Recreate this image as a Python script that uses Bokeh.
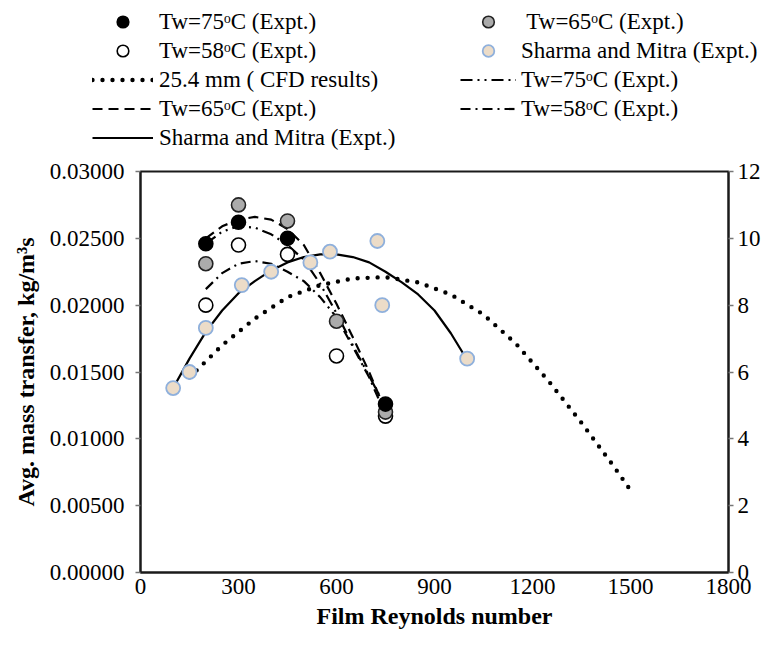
from bokeh.plotting import figure
from bokeh.layouts import column
from bokeh.models import (Range1d, LinearAxis, FixedTicker, NumeralTickFormatter,
                          Legend, LegendItem)
from bokeh.embed import file_html
from bokeh.resources import INLINE

# ---------------- data ----------------
re_75 = [200, 300, 450, 750]
mt_75 = [0.0246, 0.0262, 0.0250, 0.0126]

re_65 = [200, 300, 450, 600, 750]
mt_65 = [0.0231, 0.0275, 0.0263, 0.0188, 0.0120]

re_58 = [200, 300, 450, 600, 750]
mt_58 = [0.0200, 0.0245, 0.0238, 0.0162, 0.0117]

re_sm = [100, 150, 200, 310, 400, 520, 580, 725, 740, 1000]
mt_sm = [0.0138, 0.0150, 0.0183, 0.0215, 0.0225, 0.0232, 0.0240, 0.0248, 0.0200, 0.0160]

# CFD results (25.4 mm)
re_cfd = [150, 250, 350, 450, 550, 650, 750, 850, 950, 1050, 1150, 1250, 1350, 1450, 1510]
mt_cfd = [0.0146, 0.0170, 0.0190, 0.0206, 0.0215, 0.0220, 0.0221, 0.0217, 0.0208,
          0.0193, 0.0171, 0.0143, 0.0112, 0.0079, 0.0058]

# trend curves of the experiments
re_fit = [200, 250, 300, 350, 400, 450, 500, 550, 600, 650, 700, 750]
fit_75 = [0.0246, 0.0255, 0.0259, 0.0258, 0.0253, 0.0245, 0.0234, 0.0216, 0.0194, 0.0170, 0.0147, 0.0124]
fit_65 = [0.0250, 0.0259, 0.0264, 0.0266, 0.0264, 0.0257, 0.0245, 0.0224, 0.0201, 0.0176, 0.0150, 0.0121]
fit_58 = [0.0212, 0.0224, 0.0231, 0.0233, 0.0231, 0.0225, 0.0218, 0.0206, 0.0191, 0.0169, 0.0146, 0.0118]

re_smfit = [100, 150, 200, 250, 300, 350, 400, 450, 500, 550, 600, 650, 700, 750, 800,
            850, 900, 950, 1000]
fit_sm = [0.0138, 0.0160, 0.0180, 0.0196, 0.0209, 0.0218, 0.0226, 0.0232, 0.0236, 0.0238,
          0.0238, 0.0236, 0.0232, 0.0225, 0.0217, 0.0208, 0.0196, 0.0179, 0.0159]

x_ticks = [0, 300, 600, 900, 1200, 1500, 1800]
y_ticks = [0.0, 0.005, 0.010, 0.015, 0.020, 0.025, 0.030]
y2_ticks = [0, 2, 4, 6, 8, 10, 12]

lab_75 = "Tw=75\u1d52C (Expt.)"
lab_65 = "Tw=65\u1d52C (Expt.)"
lab_58 = "Tw=58\u1d52C (Expt.)"
lab_sm = "Sharma and Mitra (Expt.)"
lab_cfd = "25.4 mm ( CFD results)"

FONT = "Liberation Serif"

# styles shared by plot and legend
S_CFD = dict(line_color="black", line_width=4.4, line_dash="0 10", line_cap="round")
S_F65 = dict(line_color="black", line_width=2.2, line_dash="10 6")
S_SML = dict(line_color="black", line_width=2.2)
S_F75 = dict(line_color="black", line_width=2.2, line_dash="12 5 2 5 2 5")
S_F58 = dict(line_color="black", line_width=2.2, line_dash="10 5 2 5")
M_58 = dict(fill_color="white", line_color="black", line_width=1.6)
M_65 = dict(fill_color="#ababab", line_color="#222222", line_width=1.6)
M_75 = dict(fill_color="black", line_color="black", line_width=1.6)
M_SM = dict(fill_color="#ecdcc8", line_color="#8fb0dc", line_width=1.8)

LEG_H = 155

# ---------------- main plot ----------------
p = figure(width=769, height=645 - LEG_H, output_backend="svg", toolbar_location=None,
           x_range=Range1d(0, 1800), y_range=Range1d(0, 0.03),
           min_border_left=140, min_border_right=41, min_border_top=171 - LEG_H,
           min_border_bottom=73)
p.frame_align = False
p.extra_y_ranges = {"right": Range1d(0, 12)}
p.xgrid.visible = False
p.ygrid.visible = False
p.outline_line_color = "#1a1a1a"
p.outline_line_width = 2

p.line(re_cfd, mt_cfd, **S_CFD)
p.line(re_fit, fit_65, **S_F65)
p.line(re_smfit, fit_sm, **S_SML)
p.line(re_fit, fit_75, **S_F75)
p.line(re_fit, fit_58, **S_F58)

p.scatter(re_58, mt_58, size=14, **M_58)
p.scatter(re_65, mt_65, size=14, **M_65)
p.scatter(re_75, mt_75, size=14, **M_75)
p.scatter(re_sm, mt_sm, size=14, **M_SM)

xa = p.xaxis[0]
xa.ticker = FixedTicker(ticks=x_ticks)
xa.axis_label = "Film Reynolds number"
ya = p.yaxis[0]
ya.ticker = FixedTicker(ticks=y_ticks)
ya.formatter = NumeralTickFormatter(format="0.00000")
ya.axis_label = "Avg. mass transfer, kg/m\u00b3s"

ra = LinearAxis(y_range_name="right", ticker=FixedTicker(ticks=y2_ticks))
p.add_layout(ra, "right")

for ax in (xa, ya, ra):
    ax.axis_line_color = "#1a1a1a"
    ax.axis_line_width = 2
    ax.major_tick_line_color = "#777777"
    ax.major_tick_line_width = 1.5
    ax.major_tick_in = 0
    ax.major_tick_out = 5
    ax.minor_tick_line_color = None
    ax.major_label_text_font = FONT
    ax.major_label_text_font_size = "23px"
    ax.major_label_text_color = "black"
    ax.axis_label_text_font = FONT
    ax.axis_label_text_font_style = "bold"
    ax.axis_label_text_font_size = "24px"
    ax.axis_label_text_color = "black"

xa.major_tick_out = 0
xa.major_label_standoff = 6
xa.axis_label_standoff = 6
ya.major_label_standoff = 11
ya.axis_label_standoff = 8
ra.major_label_standoff = 4

# ---------------- legend strip above the plot ----------------
lf = figure(width=769, height=LEG_H, output_backend="svg", toolbar_location=None,
            x_range=Range1d(0, 769), y_range=Range1d(0, LEG_H),
            x_axis_location=None, y_axis_location=None,
            min_border_left=0, min_border_right=0, min_border_top=0, min_border_bottom=0)
lf.frame_align = False
lf.xgrid.visible = False
lf.ygrid.visible = False
lf.outline_line_color = None

far = [-1000]
g_75 = lf.scatter(far, far, **M_75)
g_58 = lf.scatter(far, far, **M_58)
g_65 = lf.scatter(far, far, **M_65)
g_sm = lf.scatter(far, far, **M_SM)
g_cfd = lf.line(far, far, **S_CFD)
g_f65 = lf.line(far, far, **S_F65)
g_sml = lf.line(far, far, **S_SML)
g_f75 = lf.line(far, far, **S_F75)
g_f58 = lf.line(far, far, **S_F58)

def make_legend(items, glyph_w, standoff, loc):
    return Legend(items=items, location=loc, orientation="vertical",
                  glyph_width=glyph_w, glyph_height=29, label_height=29,
                  label_standoff=standoff, spacing=0, padding=0, margin=0,
                  border_line_color=None, background_fill_alpha=0,
                  label_text_font=FONT, label_text_font_size="23px",
                  label_text_color="black")

leg1 = make_legend([
    LegendItem(label=lab_75, renderers=[g_75]),
    LegendItem(label=lab_58, renderers=[g_58]),
    LegendItem(label=lab_cfd, renderers=[g_cfd]),
    LegendItem(label=lab_65, renderers=[g_f65]),
    LegendItem(label=lab_sm, renderers=[g_sml]),
], 61, 6, (92, 3))

leg2 = make_legend([
    LegendItem(label=" " + lab_65, renderers=[g_65]),
    LegendItem(label=lab_sm, renderers=[g_sm]),
    LegendItem(label=lab_75, renderers=[g_f75]),
    LegendItem(label=lab_58, renderers=[g_f58]),
], 56, 5, (460, 32))

lf.add_layout(leg1, "center")
lf.add_layout(leg2, "center")

layout = column(lf, p, spacing=0)
open("out.html", "w").write(file_html(layout, INLINE))
